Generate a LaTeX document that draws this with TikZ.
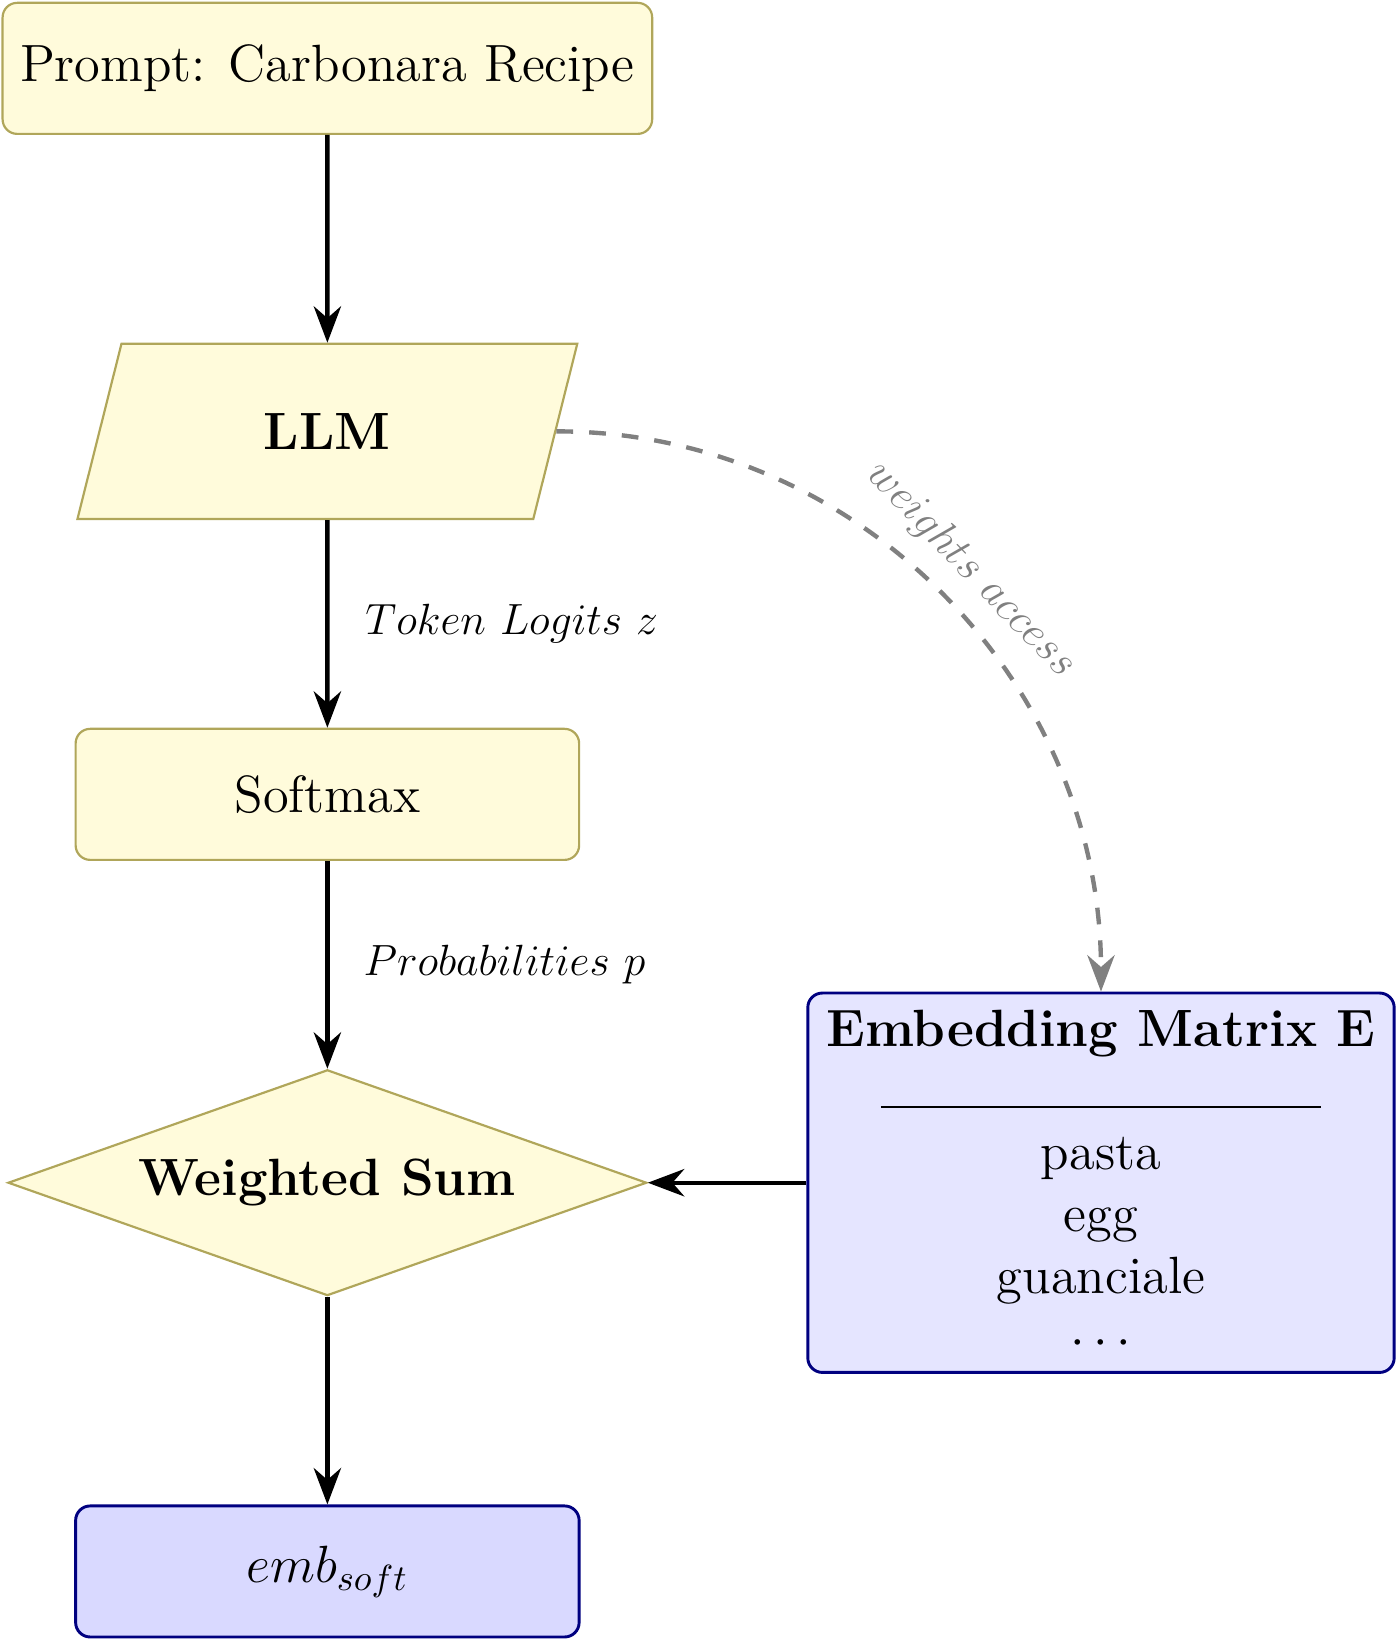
\documentclass[tikz,border=0pt]{standalone}
\usetikzlibrary{positioning,shapes.geometric,arrows.meta}
\definecolor{boxfill}{RGB}{255,251,219}
\definecolor{boxline}{RGB}{176,166,90}
\begin{document}
\begin{tikzpicture}[>={Stealth[length=10pt,width=7.5pt]},font=\Large,node distance=2.005cm,
	ybox/.style={draw=boxline,fill=boxfill,semithick,rounded corners=4pt,minimum width=4.86cm,minimum height=1.265cm},
	bbox/.style={draw=blue!50!black,thick,rounded corners=4pt},
	flow/.style={->,very thick},
	lbl/.style={font=\large}]
	\useasboundingbox (0,0) rectangle (13.48,-15.83);
	\node[ybox,minimum width=6.27cm] (prompt) at (3.16,-0.66) {Prompt: Carbonara Recipe};
	\node[trapezium,trapezium left angle=75,trapezium right angle=105,trapezium stretches=true,
		draw=boxline,fill=boxfill,semithick,minimum width=4.84cm,minimum height=1.69cm,below=of prompt] (llm) {\textbf{LLM}};
	\node[ybox,below=of llm] (softmax) {Softmax};
	\node[diamond,aspect=2.8,draw=boxline,fill=boxfill,semithick,minimum width=6.165cm,minimum height=2.18cm,
		below=of softmax] (wsum) {\textbf{Weighted Sum}};
	\node[bbox,fill=blue!15,minimum width=4.86cm,minimum height=1.265cm,below=of wsum] (emb) {$emb_{soft}$};
	% vocabulary side
	\node[bbox,fill=blue!10,align=center,minimum width=5.66cm,inner ysep=4.6pt,right=1.53cm of wsum] (matE)
		{\textbf{Embedding Matrix E}\\[-1pt] \rule{4.25cm}{0.5pt}\\[-1pt] pasta\\[-1pt] egg\\[-1pt] guanciale\\[-1pt] $\cdots$};
	\draw[flow] (prompt) -- (llm);
	\draw[flow] (llm) -- node[lbl,right=6.5pt] {$Token\ Logits\ z$} (softmax);
	\draw[flow] (softmax) -- node[lbl,right=6pt] {$Probabilities\ p$} (wsum);
	\draw[flow] (wsum) -- (emb);
	\draw[flow] (matE) -- (wsum);
	\draw[flow,gray,dash pattern=on 4.6pt off 4.4pt] (llm.east) to[out=0,in=90]
		node[lbl,midway,sloped,above=1.5pt] {$weights\ access$} (matE.north);
\end{tikzpicture}
\end{document}
